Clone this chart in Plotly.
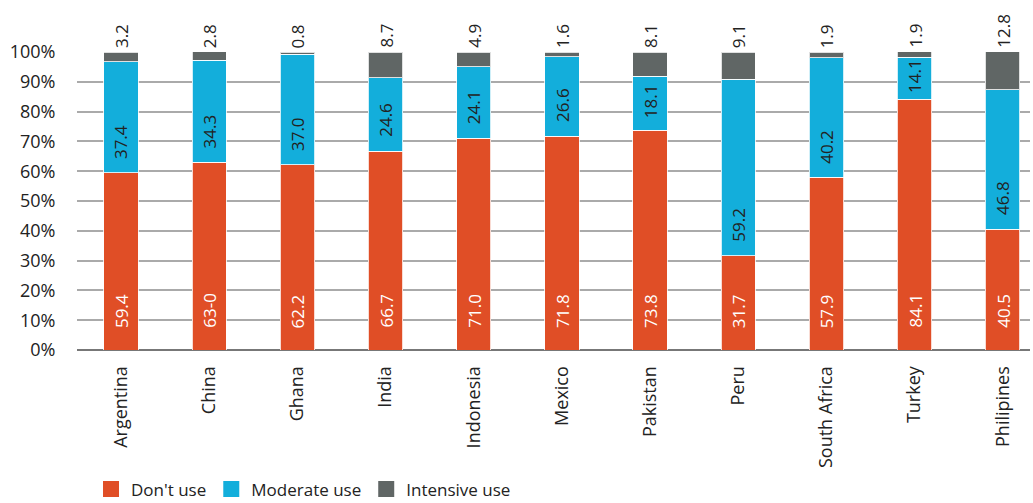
import plotly.graph_objects as go

countries = ["Argentina", "China", "Ghana", "India", "Indonesia", "Mexico",
             "Pakistan", "Peru", "South Africa", "Turkey", "Philipines"]
dont_use = [59.4, 63.0, 62.2, 66.7, 71.0, 71.8, 73.8, 31.7, 57.9, 84.1, 40.5]
moderate = [37.4, 34.3, 37.0, 24.6, 24.1, 26.6, 18.1, 59.2, 40.2, 14.1, 46.8]
intensive = [3.2, 2.8, 0.8, 8.7, 4.9, 1.6, 8.1, 9.1, 1.9, 1.9, 12.8]
dont_labels = ["59.4", "63-0", "62.2", "66.7", "71.0", "71.8", "73.8", "31.7", "57.9", "84.1", "40.5"]
mod_labels = ["37.4", "34.3", "37.0", "24.6", "24.1", "26.6", "18.1", "59.2", "40.2", "14.1", "46.8"]
int_labels = ["3.2", "2.8", "0.8", "8.7", "4.9", "1.6", "8.1", "9.1", "1.9", "1.9", "12.8"]
series_names = ["Don't use", "Moderate use", "Intensive use"]
colors = ["#E04E26", "#13AEDB", "#606665"]
y_ticks = [0, 10, 20, 30, 40, 50, 60, 70, 80, 90, 100]

FONT = "Open Sans"
PLOT_H = 298  # px for 0..100
fig = go.Figure()
for vals, c in zip([dont_use, moderate, intensive], colors):
    fig.add_trace(go.Bar(x=countries, y=vals,
                         marker=dict(color=c, line=dict(color="rgba(255,255,255,0.8)", width=1)),
                         width=0.39, showlegend=False, hoverinfo="skip"))
for name, c in zip(series_names, colors):
    fig.add_trace(go.Scatter(x=[None], y=[None], mode="markers", name=name,
                             marker=dict(symbol="square", size=16, color=c)))

ann = []
for i, cty in enumerate(countries):
    ann.append(dict(x=cty, y=0, text=dont_labels[i], textangle=-90, showarrow=False,
                    xanchor="center", yanchor="bottom", yshift=20,
                    font=dict(family=FONT, size=17, color="white")))
    seg_px = moderate[i] / 100 * PLOT_H
    shift = max(4, min(12, (seg_px - 34) / 2))
    ann.append(dict(x=cty, y=dont_use[i], text=mod_labels[i], textangle=-90, showarrow=False,
                    xanchor="center", yanchor="bottom", yshift=shift,
                    font=dict(family=FONT, size=17, color="#222222")))
    top = dont_use[i] + moderate[i] + intensive[i]
    ann.append(dict(x=cty, y=min(top, 100), text=int_labels[i], textangle=-90, showarrow=False,
                    xanchor="center", yanchor="bottom", yshift=2,
                    font=dict(family=FONT, size=17, color="#222222")))

fig.update_layout(
    barmode="stack",
    width=1033, height=503,
    margin=dict(l=77, r=3, t=52, b=153, autoexpand=False),
    paper_bgcolor="white", plot_bgcolor="white",
    font=dict(family=FONT, size=17, color="#222222"),
    annotations=ann,
    legend=dict(orientation="h", x=0.0147, y=-0.468, xanchor="left", yanchor="middle",
                traceorder="normal",
                font=dict(family=FONT, size=17, color="#222222"), itemclick=False),
    xaxis=dict(range=[-0.5, 10.31], tickangle=-90, ticks="outside", ticklen=8,
               tickcolor="rgba(0,0,0,0)", showgrid=False, showline=False, zeroline=False,
               automargin=False, tickfont=dict(family=FONT, size=18, color="#222222")),
    yaxis=dict(range=[0, 100], tickvals=y_ticks, ticktext=[f"{v}%" for v in y_ticks],
               ticks="outside", ticklen=17, tickcolor="rgba(0,0,0,0)",
               showgrid=True, gridcolor="#aaaaaa", gridwidth=1.5,
               zeroline=True, zerolinecolor="#777777", zerolinewidth=1.5,
               showline=False, automargin=False,
               tickfont=dict(family=FONT, size=18, color="#222222")),
)
fig.write_html("out.html")
